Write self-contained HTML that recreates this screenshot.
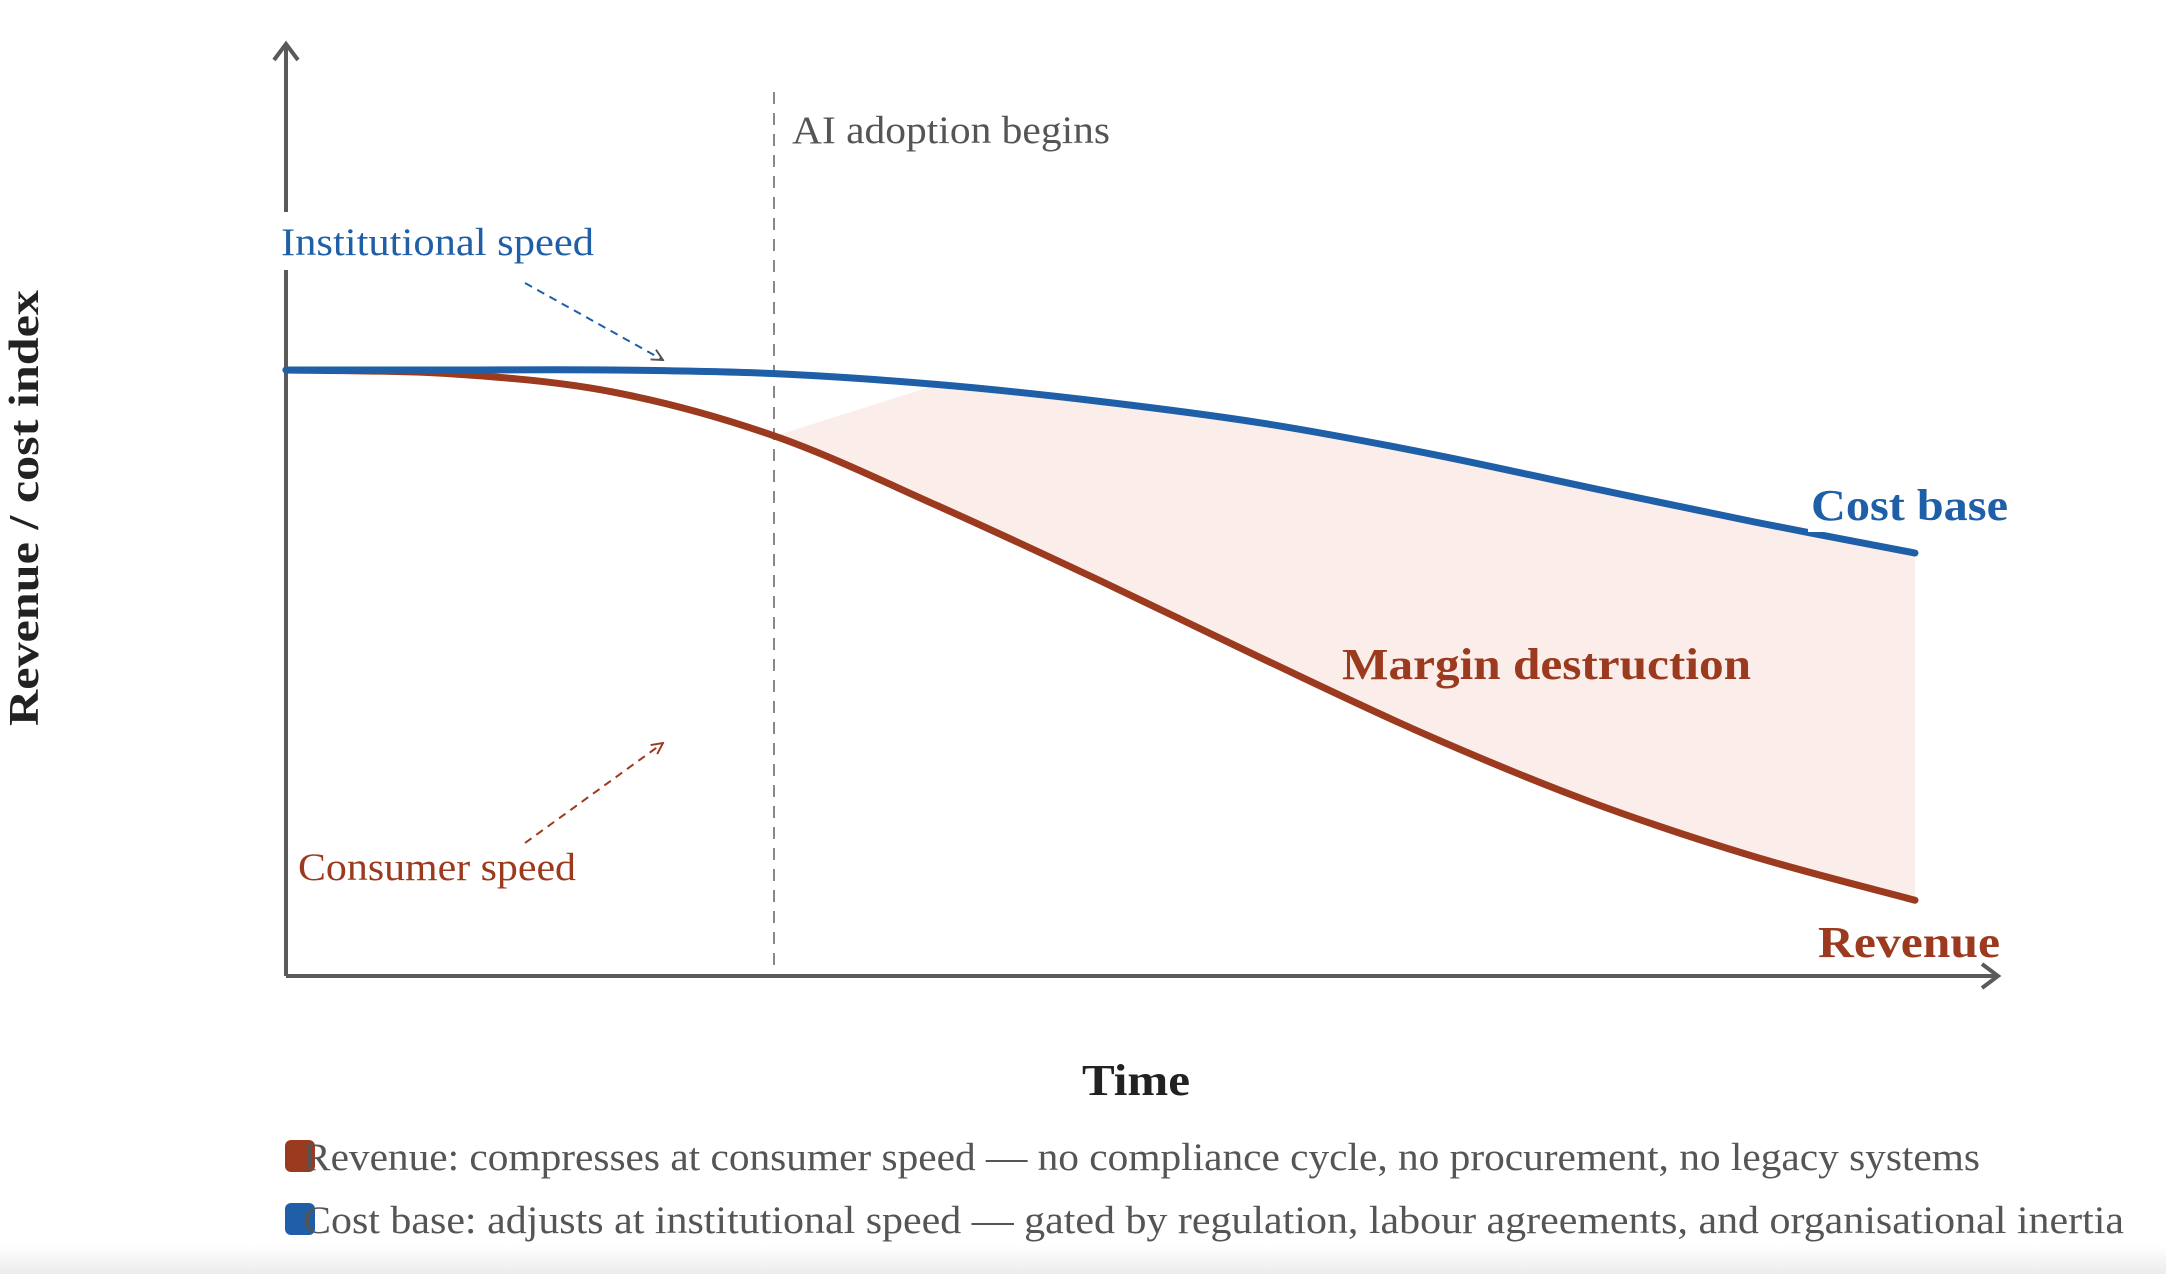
<!DOCTYPE html>
<html><head><meta charset="utf-8"><style>
html,body{margin:0;padding:0;background:#fff}
svg{display:block}
text{font-family:"Liberation Serif",serif}
</style></head><body>
<svg id="chart" width="2166" height="1274" viewBox="0 0 2166 1274" xmlns="http://www.w3.org/2000/svg">
<defs>
<linearGradient id="bot" x1="0" y1="0" x2="0" y2="1"><stop offset="0" stop-color="#fff"/><stop offset="1" stop-color="#ececec"/></linearGradient>
<marker id="ab" viewBox="0 0 10 10" refX="9" refY="5" markerWidth="7" markerHeight="7" orient="auto"><path d="M1,1 L9,5 L1,9" fill="none" stroke="#555" stroke-width="1.4"/></marker>
<marker id="ar" viewBox="0 0 10 10" refX="9" refY="5" markerWidth="7" markerHeight="7" orient="auto"><path d="M1,1 L9,5 L1,9" fill="none" stroke="#9b3a1e" stroke-width="1.4"/></marker>
</defs>
<rect x="0" y="1245" width="2166" height="29" fill="url(#bot)"/>
<path id="fill" fill="#fbeeea"/>
<line x1="774" y1="92" x2="774" y2="976" stroke="#888" stroke-width="2" stroke-dasharray="12,9"/>
<text x="792" y="143" font-size="39" fill="#555" textLength="318" lengthAdjust="spacingAndGlyphs">AI adoption begins</text>
<line x1="286" y1="976" x2="286" y2="46" stroke="#5a5a5a" stroke-width="4"/>
<path d="M274,60 L286,44 L298,60" fill="none" stroke="#5a5a5a" stroke-width="4"/>
<line x1="286" y1="976" x2="1998" y2="976" stroke="#5a5a5a" stroke-width="4"/>
<path d="M1982,964 L1998,976 L1982,988" fill="none" stroke="#5a5a5a" stroke-width="4"/>
<rect x="276" y="212" width="320" height="58" fill="#fff"/>
<text x="281" y="255" font-size="39" fill="#1f5fa8" textLength="313" lengthAdjust="spacingAndGlyphs">Institutional speed</text>
<line x1="525" y1="283" x2="663" y2="360" stroke="#1f5fa8" stroke-width="2" stroke-dasharray="8,6" marker-end="url(#ab)"/>
<path id="rev" fill="none" stroke="#9b3a1e" stroke-width="7" stroke-linecap="round"/>
<path id="cost" fill="none" stroke="#1f5fa8" stroke-width="7" stroke-linecap="round"/>
<rect x="288" y="842" width="300" height="56" fill="#fff"/>
<text x="298" y="880" font-size="39" fill="#9b3a1e" textLength="278" lengthAdjust="spacingAndGlyphs">Consumer speed</text>
<line x1="525" y1="843" x2="663" y2="743" stroke="#9b3a1e" stroke-width="2" stroke-dasharray="8,6" marker-end="url(#ar)"/>
<rect x="1808" y="482" width="204" height="50" fill="#fff"/>
<text x="1811" y="520" font-size="44" font-weight="bold" fill="#1f5fa8" textLength="197" lengthAdjust="spacingAndGlyphs">Cost base</text>
<text x="1342" y="679" font-size="44" font-weight="bold" fill="#9b3a1e" textLength="409" lengthAdjust="spacingAndGlyphs">Margin destruction</text>
<text x="1818" y="957" font-size="44" font-weight="bold" fill="#9b3a1e" textLength="182" lengthAdjust="spacingAndGlyphs">Revenue</text>
<text x="1082" y="1095" font-size="44" font-weight="bold" fill="#222" textLength="108" lengthAdjust="spacingAndGlyphs">Time</text>
<text transform="translate(38,508) rotate(-90)" text-anchor="middle" font-size="42" font-weight="bold" fill="#222" textLength="436" lengthAdjust="spacingAndGlyphs">Revenue / cost index</text>
<rect x="285" y="1140" width="30" height="32" rx="6" fill="#9b3a1e"/>
<text x="303" y="1170" font-size="39" fill="#555" textLength="1677" lengthAdjust="spacingAndGlyphs">Revenue: compresses at consumer speed — no compliance cycle, no procurement, no legacy systems</text>
<rect x="285" y="1203" width="30" height="32" rx="6" fill="#1f5fa8"/>
<text x="303" y="1233" font-size="39" fill="#555" textLength="1821" lengthAdjust="spacingAndGlyphs">Cost base: adjusts at institutional speed — gated by regulation, labour agreements, and organisational inertia</text>
</svg>
<script>
const timeSteps = [0,1,2,3,4,5,6,7,8,9,10];
const costValues = [100,100,100,99.4,97.6,94.8,91.2,86.3,80.6,75.0,69.8];
const revenueValues = [100,99.4,96.4,89.1,77.6,65.2,52.3,39.8,28.8,19.8,12.5];
const adoptionTime = 3;
const xs = t => 286 + t * 162.9;
const ys = v => 976 - v * 6.06;
function smooth(pts){
  let d = 'M' + pts[0][0] + ',' + pts[0][1];
  for (let i = 0; i < pts.length - 1; i++) {
    const p0 = pts[Math.max(0,i-1)], p1 = pts[i], p2 = pts[i+1], p3 = pts[Math.min(pts.length-1,i+2)];
    const c1 = [p1[0]+(p2[0]-p0[0])/6, p1[1]+(p2[1]-p0[1])/6];
    const c2 = [p2[0]-(p3[0]-p1[0])/6, p2[1]-(p3[1]-p1[1])/6];
    d += ' C' + c1 + ' ' + c2 + ' ' + p2;
  }
  return d;
}
const cp = timeSteps.map((t,i)=>[xs(t), ys(costValues[i])]);
const rp = timeSteps.map((t,i)=>[xs(t), ys(revenueValues[i])]);
document.getElementById('cost').setAttribute('d', smooth(cp));
document.getElementById('rev').setAttribute('d', smooth(rp));
const k = timeSteps.indexOf(adoptionTime);
const rSub = rp.slice(k), cSub = cp.slice(k + 1);
let fd = smooth(rSub);
fd += ' L' + cSub[cSub.length-1] ;
const cRev = cSub.slice().reverse();
fd += smooth(cRev).replace(/^M[^C]*/, ' ');
fd += ' Z';
document.getElementById('fill').setAttribute('d', fd);
</script>
</body></html>
